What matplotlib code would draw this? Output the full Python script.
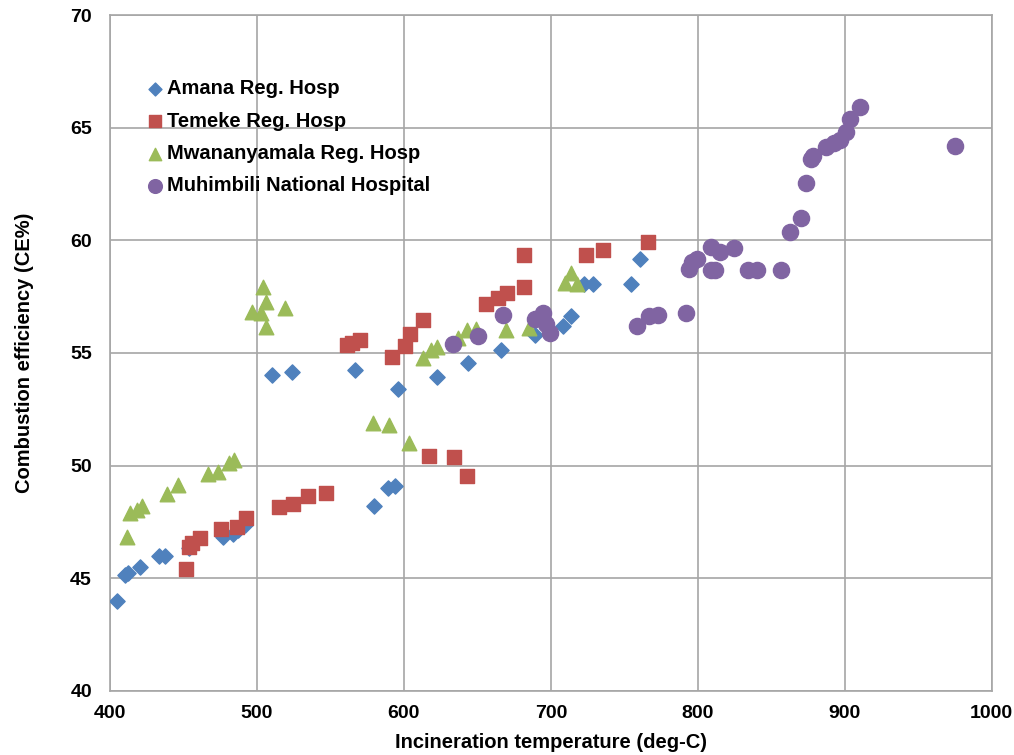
import numpy as np
import matplotlib
matplotlib.use('Agg')
import matplotlib.pyplot as plt

plt.rcParams['font.family'] = ['Liberation Sans', 'DejaVu Sans']
plt.rcParams['font.weight'] = 'bold'

# data
amana_t = [405.0, 410.2, 412.5, 420.4, 433.3, 437.4, 453.9, 477.1, 483.9, 487.0,
           491.8, 510.4, 524.0, 566.7, 579.5, 589.3, 593.9, 596.1, 622.7, 643.3,
           666.4, 689.1, 708.6, 714.0, 722.8, 729.0, 754.3, 760.5]
amana_ce = [44.0, 45.14, 45.25, 45.49, 45.99, 45.99, 46.33, 46.84, 46.95, 47.15,
            47.36, 54.02, 54.14, 54.24, 48.2, 49.0, 49.1, 53.4, 53.92, 54.54,
            55.14, 55.8, 56.2, 56.66, 58.06, 58.04, 58.06, 59.18]

temeke_t = [451.5, 454.0, 456.0, 461.2, 475.3, 486.2, 492.3, 515.2, 524.3, 534.5,
            546.7, 561.0, 564.4, 570.0, 591.6, 600.7, 604.1, 613.0, 617.2, 634.2,
            642.6, 655.6, 664.2, 669.9, 682.0, 682.0, 724.2, 735.6, 766.2]
temeke_ce = [45.4, 46.4, 46.55, 46.8, 47.17, 47.29, 47.69, 48.18, 48.28, 48.67,
             48.8, 55.35, 55.43, 55.57, 54.81, 55.3, 55.85, 56.46, 50.44, 50.4,
             49.55, 57.17, 57.45, 57.68, 57.94, 59.35, 59.35, 59.57, 59.94]

mwana_t = [411.3, 413.6, 418.1, 421.5, 438.5, 446.5, 466.9, 473.7, 481.2, 484.4,
           496.4, 503.0, 504.3, 506.0, 506.0, 519.0, 579.1, 589.8, 603.4, 612.7,
           618.5, 622.8, 636.9, 642.6, 649.2, 669.7, 684.8, 709.5, 713.4, 717.8]
mwana_ce = [46.84, 47.88, 48.03, 48.2, 48.73, 49.14, 49.63, 49.73, 50.13, 50.25,
            56.8, 56.76, 57.94, 57.27, 56.17, 56.98, 51.9, 51.8, 51.02, 54.78,
            55.12, 55.28, 55.65, 56.03, 56.07, 56.0, 56.1, 58.12, 58.55, 58.06]

muhim_t = [633.5, 650.1, 667.6, 689.1, 694.5, 697.0, 699.3, 758.5, 766.8, 773.0,
           791.7, 794.0, 796.2, 799.3, 808.7, 811.6, 809.3, 815.0, 824.5, 834.2,
           840.6, 856.9, 862.6, 870.5, 873.5, 876.9, 878.5, 887.1, 892.7, 896.6,
           900.7, 903.4, 910.2, 974.8]
muhim_ce = [55.42, 55.74, 56.68, 56.52, 56.78, 56.3, 55.87, 56.2, 56.62, 56.67,
            56.79, 58.72, 59.05, 59.15, 58.68, 58.68, 59.69, 59.49, 59.67, 58.68,
            58.68, 58.68, 60.38, 61.0, 62.56, 63.6, 63.75, 64.15, 64.3, 64.45,
            64.79, 65.38, 65.9, 64.19]

fig = plt.figure(figsize=(10.14, 7.55), dpi=100)
ax = fig.add_axes([0.1085, 0.085, 0.8695, 0.895])

ax.scatter(amana_t, amana_ce, marker='D', s=60, color='#4F81BD', label='Amana Reg. Hosp', zorder=3)
ax.scatter(temeke_t, temeke_ce, marker='s', s=90, color='#C0504D', label='Temeke Reg. Hosp', zorder=3)
ax.scatter(mwana_t, mwana_ce, marker='^', s=110, color='#9BBB59', label='Mwananyamala Reg. Hosp', zorder=3)
ax.scatter(muhim_t, muhim_ce, marker='o', s=135, color='#8064A2', label='Muhimbili National Hospital', zorder=3)

ax.set_xlim(400, 1000)
ax.set_ylim(40, 70)
ax.set_xticks(np.arange(400, 1001, 100))
ax.set_yticks(np.arange(40, 71, 5))
ax.grid(True, color='#A6A6A6', linewidth=1.2)
ax.set_axisbelow(True)
for sp in ax.spines.values():
    sp.set_color('#A6A6A6')
    sp.set_linewidth(1.2)
ax.tick_params(length=0, labelsize=14)
ax.tick_params(axis='x', pad=10)
ax.tick_params(axis='y', pad=13)

ax.set_xlabel('Incineration temperature (deg-C)', fontsize=14.5, fontweight='bold', labelpad=8)
ax.set_ylabel('Combustion efficiency (CE%)', fontsize=14.5, fontweight='bold', labelpad=26)

ax.legend(loc='upper left', bbox_to_anchor=(0.03, 0.917), frameon=False, fontsize=14.5,
          markerscale=0.85, handletextpad=0.1, handlelength=1.0, labelspacing=0.66,
          borderaxespad=0)

fig.savefig('out.png', dpi=100)
